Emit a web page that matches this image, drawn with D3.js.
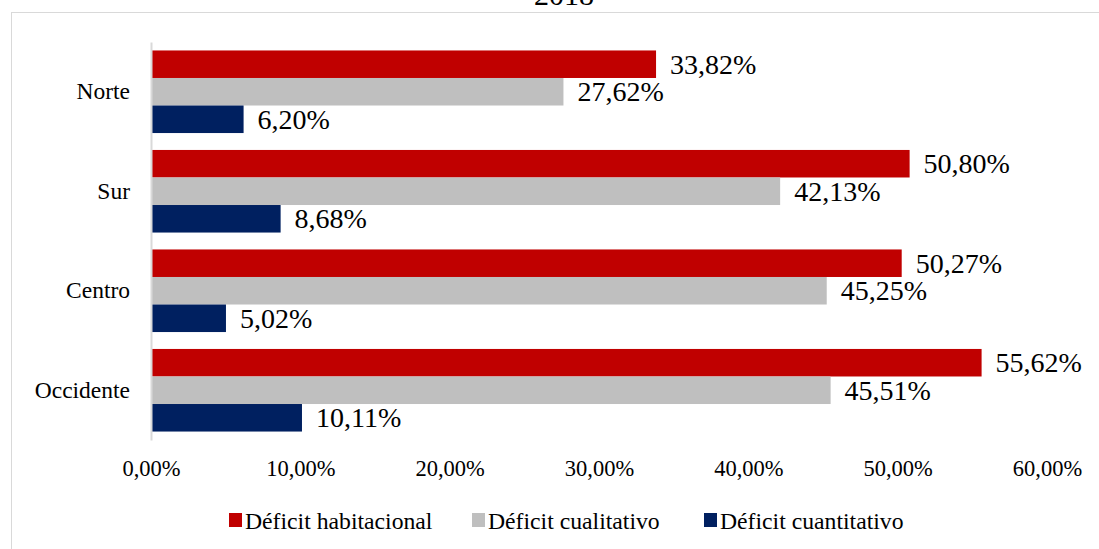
<!DOCTYPE html>
<html><head><meta charset="utf-8">
<script src="https://cdn.jsdelivr.net/npm/d3@7"></script>
<style>
html,body{margin:0;padding:0;background:#fff;}
svg{display:block;}
svg text{font-family:"Liberation Serif","Times New Roman",serif !important;}
</style></head>
<body>
<svg id="chart" width="1099" height="549"></svg>
<script>
const title = "2018";
const categories = ["Norte", "Sur", "Centro", "Occidente"];
const seriesNames = ["Déficit habitacional", "Déficit cualitativo", "Déficit cuantitativo"];
const habitacional = [33.82, 50.80, 50.27, 55.62];
const cualitativo = [27.62, 42.13, 45.25, 45.51];
const cuantitativo = [6.20, 8.68, 5.02, 10.11];
const tickValues = [0, 10, 20, 30, 40, 50, 60];
const colors = ["#C00000", "#BFBFBF", "#002060"];

const seriesValues = [habitacional, cualitativo, cuantitativo];
const fmt = v => v.toFixed(2).replace(".", ",") + "%";
const SERIF = '"Liberation Serif", "Times New Roman", serif';

const svg = d3.select("#chart");

// outer frame
svg.append("rect").attr("x", 11.5).attr("y", 12.5).attr("width", 1100).attr("height", 600)
  .attr("fill", "none").attr("stroke", "#D9D9D9").attr("stroke-width", 1);

svg.append("text").attr("x", 564).attr("y", 5).attr("text-anchor", "middle")
  .style("font-family", SERIF).attr("font-size", 30).attr("fill", "#000").text(title);

const x = d3.scaleLinear().domain([0, 60]).range([151, 1047]);
const y = d3.scaleBand().domain(categories).range([42, 440]).paddingInner(0.17).paddingOuter(0.085);
const ySub = d3.scaleBand().domain(d3.range(seriesNames.length)).range([0, y.bandwidth()]);

const data = [];
categories.forEach((c, i) => seriesValues.forEach((s, j) => data.push({cat: c, s: j, v: s[i]})));

const g = svg.append("g");
g.selectAll("rect.bar").data(data).join("rect").attr("class", "bar")
  .attr("x", x(0))
  .attr("y", d => y(d.cat) + ySub(d.s))
  .attr("width", d => x(d.v) - x(0))
  .attr("height", ySub.bandwidth())
  .attr("fill", d => colors[d.s]);

g.selectAll("text.val").data(data).join("text").attr("class", "val")
  .attr("x", d => x(d.v) + 14)
  .attr("y", d => y(d.cat) + ySub(d.s) + ySub.bandwidth() / 2)
  .attr("dy", "0.34em")
  .style("font-family", SERIF)
  .attr("font-size", 28).attr("fill", "#000")
  .text(d => fmt(d.v));

// category axis
const yAxis = d3.axisLeft(y).tickSize(0).tickPadding(21);
const ya = svg.append("g").attr("transform", `translate(${x(0)},0)`).call(yAxis);
ya.attr("font-family", null);
ya.select(".domain").attr("stroke", "#D9D9D9").attr("stroke-width", 2);
ya.selectAll("text").style("font-family", SERIF).attr("font-size", 23.5).attr("fill", "#000");

// value axis (labels only)
const xAxis = d3.axisBottom(x).tickValues(tickValues).tickSize(0).tickPadding(0)
  .tickFormat(v => v.toFixed(2).replace(".", ",") + "%");
const xa = svg.append("g").attr("transform", "translate(0,460)").call(xAxis);
xa.attr("font-family", null);
xa.select(".domain").remove();
xa.selectAll("text").style("font-family", SERIF).attr("font-size", 22.5).attr("fill", "#000").attr("dy", "0.71em");

// legend
const legX = [229, 472, 704];
const leg = svg.append("g");
seriesNames.forEach((n, i) => {
  leg.append("rect").attr("x", legX[i]).attr("y", 513).attr("width", 13).attr("height", 14).attr("fill", colors[i]);
  leg.append("text").attr("x", legX[i] + 16).attr("y", 529).style("font-family", SERIF)
    .attr("font-size", 23.7).attr("fill", "#000").text(n);
});
</script>
</body></html>
